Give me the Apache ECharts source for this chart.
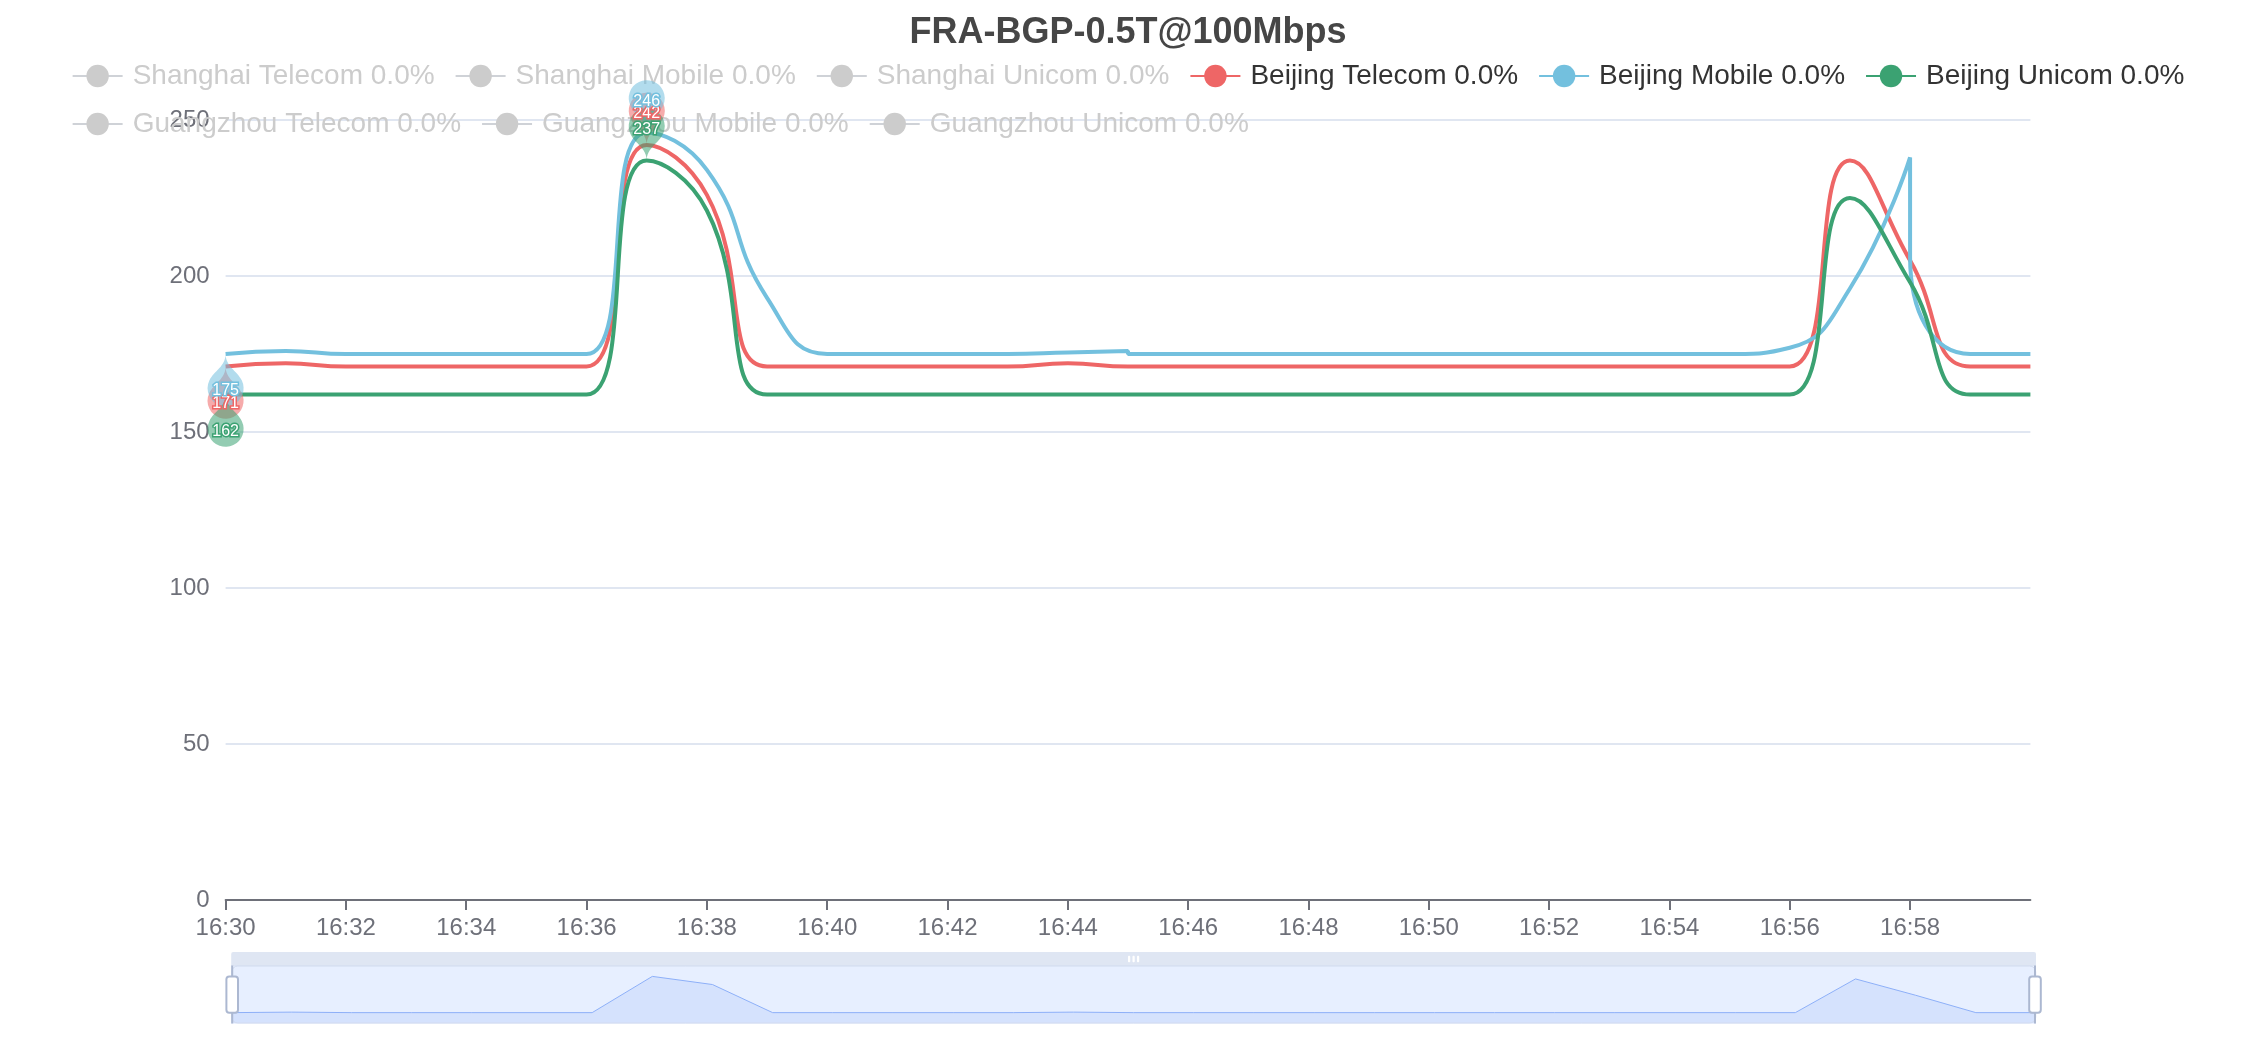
<!DOCTYPE html>
<html>
<head>
<meta charset="utf-8">
<script src="https://cdn.jsdelivr.net/npm/echarts@6/dist/echarts.min.js"></script>
<style>
html,body{margin:0;padding:0;overflow:hidden;background:#ffffff;}
#chart{width:2256px;height:1040px;}
</style>
</head>
<body>
<div id="chart"></div>
<script>
// ---- data ----
const chartTitle = 'FRA-BGP-0.5T@100Mbps';
const seriesNames = ['Shanghai Telecom', 'Shanghai Mobile', 'Shanghai Unicom',
  'Beijing Telecom', 'Beijing Mobile', 'Beijing Unicom',
  'Guangzhou Telecom', 'Guangzhou Mobile', 'Guangzhou Unicom'];
const lossRates = [0, 0, 0, 0, 0, 0, 0, 0, 0];
const hiddenSeries = ['Shanghai Telecom', 'Shanghai Mobile', 'Shanghai Unicom',
  'Guangzhou Telecom', 'Guangzhou Mobile', 'Guangzhou Unicom'];
const day = [2024, 0, 1];
const timeStart = '16:30';
const timeEnd = '17:00';
const xTickLabels = ['16:30', '16:32', '16:34', '16:36', '16:38', '16:40', '16:42', '16:44',
  '16:46', '16:48', '16:50', '16:52', '16:54', '16:56', '16:58'];
const times = ['16:30', '16:31', '16:32', '16:33', '16:34', '16:35', '16:36', '16:37', '16:38', '16:39',
  '16:40', '16:41', '16:42', '16:43', '16:44', '16:45', '16:46', '16:47', '16:48', '16:49',
  '16:50', '16:51', '16:52', '16:53', '16:54', '16:55', '16:56', '16:57', '16:58', '16:59', '17:00'];
const beijingTelecom = [171, 172, 171, 171, 171, 171, 171, 242, 226, 171,
  171, 171, 171, 171, 172, 171, 171, 171, 171, 171,
  171, 171, 171, 171, 171, 171, 171, 237, 205, 171, 171];
const beijingUnicom = [162, 162, 162, 162, 162, 162, 162, 237, 221, 162,
  162, 162, 162, 162, 162, 162, 162, 162, 162, 162,
  162, 162, 162, 162, 162, 162, 162, 225, 198, 162, 162];
// Beijing Mobile has two repeated timestamps (16:45 and 16:58)
const beijingMobileTimes = ['16:30', '16:31', '16:32', '16:33', '16:34', '16:35', '16:36', '16:37', '16:38', '16:39',
  '16:40', '16:41', '16:42', '16:43', '16:44', '16:45', '16:45', '16:46', '16:47', '16:48', '16:49',
  '16:50', '16:51', '16:52', '16:53', '16:54', '16:55', '16:56', '16:57', '16:58', '16:58', '16:59', '17:00'];
const beijingMobile = [175, 176, 175, 175, 175, 175, 175, 246, 234, 193,
  175, 175, 175, 175, 175.5, 176, 175, 175, 175, 175, 175,
  175, 175, 175, 175, 175, 175, 177, 196, 238, 206, 175, 175];
const yTicks = [0, 50, 100, 150, 200, 250];
const seriesValues = {
  'Beijing Telecom': { t: times, v: beijingTelecom },
  'Beijing Mobile': { t: beijingMobileTimes, v: beijingMobile },
  'Beijing Unicom': { t: times, v: beijingUnicom }
};
const palette = ['#5470c6', '#91cc75', '#fac858', '#ee6666', '#73c0de', '#3ba272', '#fc8452', '#9a60b4', '#ea7ccc'];

// ---- chart (drawn at 2x of a 1128x520 layout) ----
const S = 2;
const chart = echarts.init(document.getElementById('chart'), null, { renderer: 'canvas' });

function ts(hhmm) {
  const p = hhmm.split(':');
  return new Date(day[0], day[1], day[2], +p[0], +p[1], 0).getTime();
}
function toPairs(name) {
  const s = seriesValues[name];
  if (!s) return [];
  return s.t.map((t, i) => [ts(t), s.v[i]]);
}
const tickValues = xTickLabels.map(ts);

const selected = {};
seriesNames.forEach(n => { selected[n] = hiddenSeries.indexOf(n) < 0; });

const series = seriesNames.map(name => ({
  name: name,
  type: 'line',
  smooth: true,
  symbol: 'circle',
  showSymbol: false,
  lineStyle: { width: 2 * S },
  data: toPairs(name),
  markPoint: {
    symbol: 'pin',
    symbolSize: 30 * S,
    label: {
      show: true, position: 'inside', fontSize: 8 * S, color: '#fff', opacity: 1,
      textBorderColor: 'inherit', textBorderWidth: 3
    },
    itemStyle: { opacity: 0.55 },
    data: [
      { type: 'max', name: 'Max' },
      { type: 'min', name: 'Min', symbolRotate: 180, label: { offset: [0, 8 * S] } }
    ]
  }
}));

const option = {
  color: palette,
  backgroundColor: '#fff',
  textStyle: { fontFamily: 'Liberation Sans, Arial, Helvetica, sans-serif' },
  animation: false,
  title: {
    text: chartTitle,
    left: 'center',
    top: 5 * S,
    textStyle: { fontSize: 18 * S, fontWeight: 'bold', color: '#464646' }
  },
  legend: {
    top: 26 * S,
    left: 'center',
    itemWidth: 25 * S,
    itemHeight: 14 * S,
    itemGap: 10 * S,
    padding: 5 * S,
    inactiveColor: '#ccc',
    textStyle: { fontSize: 14 * S, color: '#333', padding: [0, 0, 0, 5 * S - 5] },
    data: seriesNames,
    selected: selected,
    formatter: function (name) {
      const i = seriesNames.indexOf(name);
      return name + ' ' + lossRates[i].toFixed(1) + '%';
    }
  },
  grid: { left: '10%', right: '10%', top: 60 * S, bottom: 70 * S, containLabel: false, outerBoundsMode: 'none' },
  xAxis: {
    type: 'value',
    min: ts(timeStart),
    max: ts(timeEnd),
    interval: 2 * 60 * 1000,
    axisLine: { show: true, lineStyle: { color: '#6E7079', width: S } },
    axisTick: { show: true, length: 5 * S, lineStyle: { color: '#6E7079', width: S }, customValues: tickValues },
    axisLabel: {
      color: '#6E7079', fontSize: 12 * S, margin: 8 * S, customValues: tickValues,
      formatter: function (v) { return echarts.time.format(v, '{HH}:{mm}', false); }
    },
    splitLine: { show: false }
  },
  yAxis: {
    type: 'value',
    min: yTicks[0],
    max: yTicks[yTicks.length - 1],
    interval: yTicks[1] - yTicks[0],
    axisLine: { show: false },
    axisTick: { show: false },
    axisLabel: { color: '#6E7079', fontSize: 12 * S, margin: 8 * S },
    splitLine: { show: true, lineStyle: { color: '#E0E6F1', width: S } }
  },
  dataZoom: [{
    type: 'slider',
    xAxisIndex: 0,
    left: '10%',
    right: '10%',
    top: 476 * S,
    height: 29 * S,
    borderColor: '#d2dbee',
    borderRadius: 3 * S,
    backgroundColor: 'rgba(47,69,84,0)',
    fillerColor: 'rgba(135,175,255,0.2)',
    dataBackground: {
      lineStyle: { color: '#d2dbee', width: 0.5 * S },
      areaStyle: { color: '#d2dbee', opacity: 0.2 }
    },
    selectedDataBackground: {
      lineStyle: { color: '#8fb0f7', width: 0.5 * S },
      areaStyle: { color: '#8fb0f7', opacity: 0.2 }
    },
    handleIcon: 'path://M-9.35,34.56V42m0-40V9.5m-2,0h4a2,2,0,0,1,2,2v21a2,2,0,0,1-2,2h-4a2,2,0,0,1-2-2v-21A2,2,0,0,1-11.35,9.5Z',
    handleSize: '100%',
    handleStyle: { color: '#fff', borderColor: '#ACB8D1', borderWidth: S },
    moveHandleSize: 7 * S,
    moveHandleIcon: 'path://M-320.9-50L-320.9-50c18.1,0,27.1,9,27.1,27.1V85.7c0,18.1-9,27.1-27.1,27.1l0,0c-18.1,0-27.1-9-27.1-27.1V-22.9C-348-41-339-50-320.9-50z M-212.3-50L-212.3-50c18.1,0,27.1,9,27.1,27.1V85.7c0,18.1-9,27.1-27.1,27.1l0,0c-18.1,0-27.1-9-27.1-27.1V-22.9C-239.4-41-230.4-50-212.3-50z M-103.7-50L-103.7-50c18.1,0,27.1,9,27.1,27.1V85.7c0,18.1-9,27.1-27.1,27.1l0,0c-18.1,0-27.1-9-27.1-27.1V-22.9C-130.9-41-121.8-50-103.7-50z',
    moveHandleStyle: { color: '#D2DBEE', opacity: 0.7 },
    showDetail: false,
    brushSelect: true,
    textStyle: { color: '#6E7079' }
  }],
  series: series
};
chart.setOption(option);
</script>
</body>
</html>
